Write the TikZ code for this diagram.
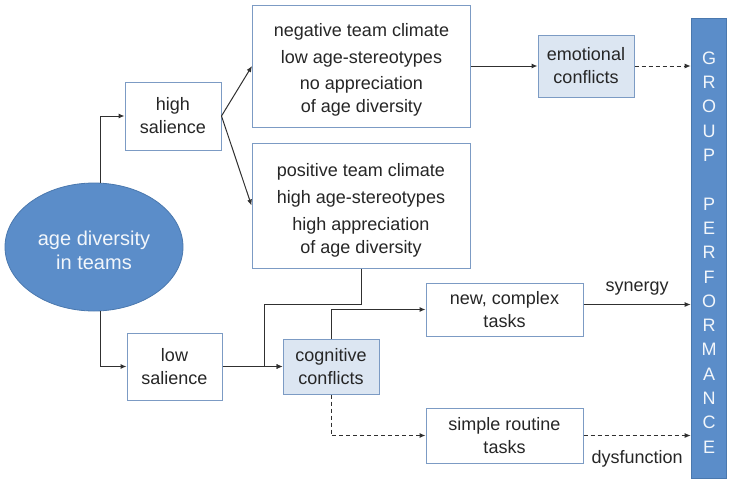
\documentclass[tikz,border=0pt]{standalone}
\usepackage{fontspec}
\setmainfont{Liberation Sans}
\usetikzlibrary{arrows.meta,shapes.geometric}
\definecolor{bluefill}{HTML}{5B8DC9}
\definecolor{blueedge}{HTML}{4A78AE}
\definecolor{boxedge}{HTML}{7C9BC4}
\definecolor{lightfill}{HTML}{DCE6F2}
\definecolor{ink}{HTML}{262626}
\definecolor{wire}{HTML}{303030}
\tikzset{
  txt/.style={font=\fontsize{18}{23}\selectfont, text=ink, align=center},
  whitebox/.style={txt, draw=boxedge, line width=1pt, fill=white, inner sep=0pt},
  conflictbox/.style={txt, draw=boxedge, line width=1pt, fill=lightfill, inner sep=0pt},
  arr/.style={draw=wire, line width=1pt, -{Latex[length=6pt,width=5pt]}},
  darr/.style={arr, dash pattern=on 4pt off 3pt},
  lbl/.style={txt, inner sep=0pt}
}
\begin{document}
\begin{tikzpicture}[x=1pt,y=-1pt]
\useasboundingbox (0,0) rectangle (729,480);

% source ellipse
\node[ellipse, draw=blueedge, line width=0.8pt, fill=bluefill, minimum width=178, minimum height=128, inner sep=0pt]
  (ell) at (94,247) {};
\node[font=\fontsize{20}{24}\selectfont, text=white!92!bluefill, align=center, inner sep=0pt]
  (elltxt) at (94,250) {age diversity\\in teams};

% salience boxes
\node[whitebox, minimum width=96, minimum height=68] (hs) at (173,116) {high\\salience};
\node[whitebox, minimum width=95, minimum height=67] (ls) at (174.5,366.5) {low\\salience};

% climate boxes (frame plus text block)
\node[whitebox, minimum width=218, minimum height=122] (neg) at (361.5,66) {};
\node[lbl] (negtxt) at (361.5,70)
  {negative team climate\\[4pt]low age-stereotypes\\[3pt]no appreciation\\of age diversity};
\node[whitebox, minimum width=218, minimum height=125] (pos) at (361,205.5) {};
\node[lbl] (postxt) at (361,210)
  {positive team climate\\[4pt]high age-stereotypes\\[4pt]high appreciation\\of age diversity};

% conflict boxes
\node[conflictbox, minimum width=96, minimum height=62] (emo) at (586,66) {emotional\\conflicts};
\node[conflictbox, minimum width=96, minimum height=55] (cog) at (331,366.5) {cognitive\\conflicts};

% task boxes
\node[whitebox, minimum width=157, minimum height=53] (newt) at (504.5,309.5) {new, complex\\tasks};
\node[whitebox, minimum width=157, minimum height=55] (simp) at (504.5,435.5) {simple routine\\tasks};

% outcome bar
\node[draw=blueedge, line width=0.6pt, fill=bluefill, minimum width=35, minimum height=460, inner sep=0pt]
  (grp) at (708.5,248) {};
\node[font=\fontsize{18}{24.3}\selectfont, text=white!92!bluefill, align=center, inner sep=0pt]
  (grptxt) at (709,252.5) {G\\R\\O\\U\\P\\[24.3pt]P\\E\\R\\F\\O\\R\\M\\A\\N\\C\\E};

% connectors
\draw[arr] ([xshift=6]ell.north) |- (hs.west);
\draw[arr] ([xshift=6]ell.south) |- (ls.west);
\draw[arr] (hs.east) -- (neg.west);
\draw[arr] (hs.east) -- (pos.west);
\draw[arr] (neg.east) -- (emo.west);
\draw[darr] (emo.east) -- (emo.east -| grp.west);

\coordinate (jn) at (264,366.5);
\draw[arr] (pos.south) -- ++(0,35.5) -| (jn) -- (cog.west);
\draw[arr] (ls.east) -- (cog.west);

\draw[arr] (cog.north) |- (newt.west);
\draw[darr] (cog.south) |- (simp.west);

\coordinate (syn) at ([yshift=5]newt.east);
\draw[arr] (syn) -- (syn -| grp.west) node[lbl, midway, above=9pt] (synl) {synergy};
\draw[darr] (simp.east) -- (simp.east -| grp.west) node[lbl, midway, below=14pt] (dysl) {dysfunction};
\end{tikzpicture}
\end{document}
